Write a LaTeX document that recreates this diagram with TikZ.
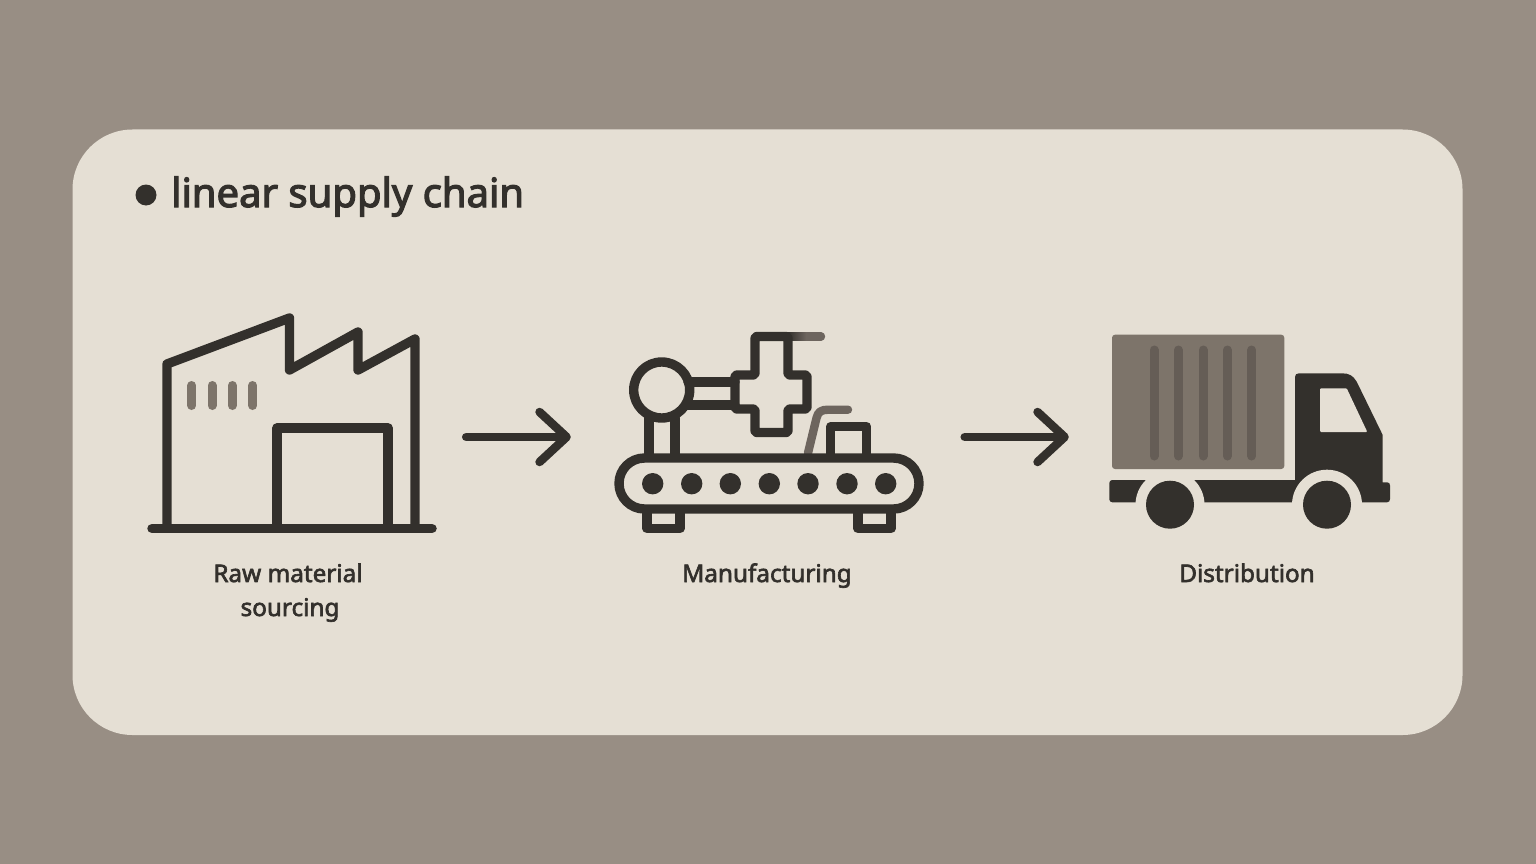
\documentclass[tikz,border=0pt]{standalone}
\usepackage{fontspec}
\setmainfont{Noto Sans}
\newfontfamily\heavyface[FakeBold=2.6]{Noto Sans}
\newfontfamily\titleface[FakeBold=3]{Noto Sans}
\usetikzlibrary{arrows.meta}
\definecolor{bgc}{HTML}{988E84}
\definecolor{paper}{HTML}{E5DFD4}
\definecolor{ink}{HTML}{33302C}
\definecolor{midg}{HTML}{7D746A}
\definecolor{deepg}{HTML}{655D56}
\definecolor{softg}{HTML}{6D655E}
\tikzset{
  icon/.style={draw=ink,line width=9.4pt,line join=round,line cap=round},
  softline/.style={draw=softg,line width=8.4pt,line cap=round,line join=round},
  slat/.style={draw=midg,line width=9pt,line cap=round},
  rib/.style={draw=deepg,line width=9pt,line cap=round},
  holder/.style={inner sep=0pt,minimum height=200pt},
  flow/.style={draw=ink,line width=8.5pt,line cap=round,
    -{Straight Barb[round,length=27pt,width=50pt,line width=8.5pt]}},
  steplabel/.style={text=ink,font=\heavyface\fontsize{24.3}{34.5}\selectfont,align=center,inner sep=0pt},
}
\begin{document}
\begin{tikzpicture}[x=1pt,y=-1pt]
\useasboundingbox (0,0) rectangle (1536,864);
\fill[bgc] (0,0) rectangle (1536,864);
\fill[paper,rounded corners=60pt] (72.5,129.5) rectangle (1462.5,735);
% title
\fill[ink] (146,195) circle (10.5);
\node[anchor=base west,text=ink,inner sep=0pt,font=\titleface\fontsize{40}{48}\selectfont] (title) at (171,207) {linear supply chain};
% icon holders
\node[holder,minimum width=290pt] (factory) at (292,437) {};
\node[holder,minimum width=308pt] (machine) at (769,437) {};
\node[holder,minimum width=281pt] (truck) at (1249.5,437) {};
% factory
\draw[icon] (167,528) -- (167,364) -- (289.5,318) -- (289.5,370) -- (358,332) -- (358,370) -- (415,339) -- (415,528);
\draw[icon] (277,528) -- (277,428) -- (388,428) -- (388,528);
\draw[icon,line width=9.5pt] (152,528.5) -- (432,528.5);
\foreach \x in {191.7,212,232.3,252.7} \draw[slat] (\x,385.5) -- (\x,405.5);
% machine
\draw[softline] (808,453) -- (816.5,418) .. controls (818,412) and (821,409.7) .. (828,409.7) -- (848,409.7);
\draw[softline] (788,336.5) -- (821,336.5);
\shade[left color=ink,right color=softg] (788,332.3) rectangle (806,340.7);
\draw[icon] (649,418) -- (649,458) (675,418) -- (675,458);
\draw[icon] (688,382) -- (735,382) (688,405) -- (735,405);
\draw[icon,rounded corners=2pt] (755,375) -- (755,336.5) -- (788,336.5) -- (788,375) -- (807,375) -- (807,409) -- (788,409) -- (788,432.5) -- (755,432.5) -- (755,409) -- (735,409) -- (735,375) -- cycle;
\draw[icon] (661.7,390) circle (28);
\draw[icon] (830.7,458) -- (830.7,426.7) -- (866.7,426.7) -- (866.7,458);
\draw[icon] (647,509) -- (647,528.5) -- (680,528.5) -- (680,509);
\draw[icon] (858,509) -- (858,528.5) -- (891,528.5) -- (891,509);
\draw[icon,rounded corners=25.5pt,fill=paper] (619,458) rectangle (919,509);
\foreach \x in {652.7,691.7,730.3,769.3,808,847,885.7} \fill[ink] (\x,483.7) circle (10.7);
% truck
\fill[midg,rounded corners=3pt] (1112,334.7) rectangle (1284.3,469);
\foreach \x in {1154,1178.3,1203,1227.3,1251.7} \draw[rib] (\x,350) -- (\x,456);
\fill[ink,rounded corners=3pt] (1109.3,480) rectangle (1300,502.3);
\fill[ink] (1295,490) -- (1295,377) .. controls (1295,374.5) and (1296.5,373.3) .. (1299,373.3) -- (1342,373.3) .. controls (1349,373.3) and (1353,375.5) .. (1356.7,381.7) -- (1382.7,435) -- (1382.7,482.3) -- (1387,482.3) .. controls (1389,482.3) and (1390,483.5) .. (1390,485.5) -- (1390,499) .. controls (1390,501) and (1389,502.3) .. (1387,502.3) -- (1295,502.3) -- cycle;
\fill[paper,rounded corners=1pt] (1320,388.3) -- (1346.7,388.3) -- (1367.3,432) -- (1320,432) -- cycle;
\fill[paper] (1170,504.7) circle (34.5) (1327,504.7) circle (35);
\fill[ink] (1170,504.7) circle (24) (1327,504.7) circle (24);
% arrows
\draw[flow,shorten <=29pt,shorten >=44pt] (factory.east) -- (machine.west);
\draw[flow,shorten <=41.5pt,shorten >=40pt] (machine.east) -- (truck.west);
% labels
\node[steplabel,anchor=base] (lab1) at (288,582) {Raw material};
\node[steplabel,anchor=base] (lab1b) at (290,616) {sourcing};
\node[steplabel,anchor=base] (lab2) at (767,582) {Manufacturing};
\node[steplabel,anchor=base] (lab3) at (1247,582) {Distribution};
\end{tikzpicture}
\end{document}
